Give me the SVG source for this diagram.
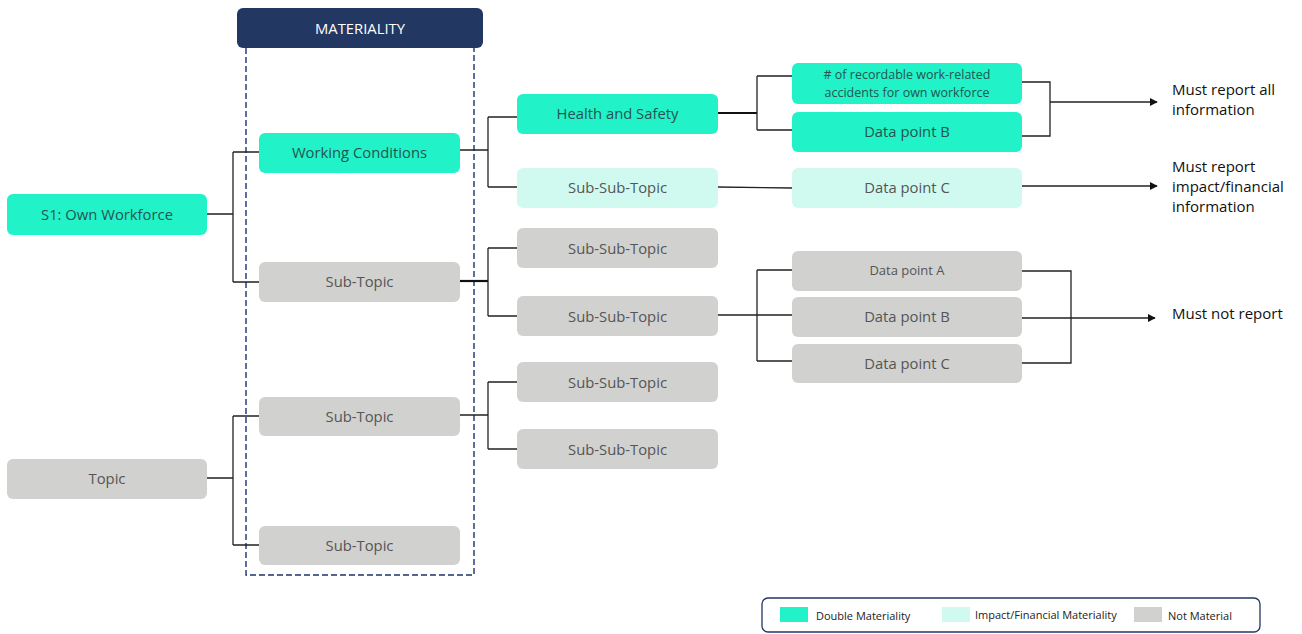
<svg xmlns="http://www.w3.org/2000/svg" width="1302" height="634" viewBox="0 0 1302 634">
<style>
text{font-family:"Open Sans","Noto Sans","Liberation Sans",sans-serif;}
.n{stroke:none;}
.dm{fill:#22F2C8;}
.im{fill:#D0FAF0;}
.nm{fill:#D1D1CF;}
.t{font-size:14.8px;text-anchor:middle;dominant-baseline:central;}
.tg{fill:#255450;}
.tl{fill:#555;}
.tn{fill:#555;}
.c{fill:none;stroke:#222;stroke-width:1.3;}
.ck{fill:none;stroke:#111;stroke-width:2.2;}
.lbl{font-size:15px;fill:#111;}
.lg{font-size:11px;fill:#222;dominant-baseline:central;}
</style>
<defs>
<marker id="ar" viewBox="0 0 10 10" refX="9" refY="5" markerWidth="8" markerHeight="8" markerUnits="userSpaceOnUse" orient="auto">
<path d="M0,0 L10,5 L0,10 z" fill="#111"/>
</marker>
</defs>

<g id="materiality">
<rect x="246" y="40" width="228" height="535" fill="none" stroke="#1B3470" stroke-width="1.4" stroke-dasharray="6,3"/>
<rect x="237" y="8" width="246" height="40" rx="6" fill="#223762"/>
<text x="360" y="28" class="t" fill="#fff">MATERIALITY</text>
</g>

<g id="connectors">
<path class="c" d="M207,214 H233 M233,152 V282 M233,152 H259 M233,282 H259"/>
<path class="c" d="M207,478 H233 M233,416 V545 M233,416 H259 M233,545 H259"/>
<path class="c" d="M460,150 H488 M488,117 V187 M488,117 H517 M488,187 H517"/>
<path class="ck" d="M460,281 H488"/>
<path class="c" d="M488,248 V316 M488,248 H517 M488,316 H517"/>
<path class="c" d="M460,415 H488 M488,382 V449 M488,382 H517 M488,449 H517"/>
<path class="ck" d="M718,113 H757"/>
<path class="c" d="M757,76 V130 M757,76 H792 M757,130 H792"/>
<path class="c" d="M718,187 L792,188"/>
<path class="c" d="M718,315 H792 M757,270 V361 M757,270 H792 M757,361 H792"/>
<path class="c" d="M1022,82 H1050 V136 H1022"/>
<path class="c" d="M1050,102 H1157" marker-end="url(#ar)"/>
<path class="c" d="M1022,186 H1157" marker-end="url(#ar)"/>
<path class="c" d="M1022,271 H1071 V363 H1022"/>
<path class="c" d="M1022,318 H1155" marker-end="url(#ar)"/>
</g>

<g id="s1"><rect class="n dm" x="7" y="194" width="200" height="41" rx="6"/><text class="t tg" x="107" y="214">S1: Own Workforce</text></g>
<g id="topic"><rect class="n nm" x="7" y="459" width="200" height="40" rx="6"/><text class="t tn" x="107" y="478">Topic</text></g>
<g id="working-conditions"><rect class="n dm" x="259" y="133" width="201" height="40" rx="6"/><text class="t tg" x="359.5" y="152">Working Conditions</text></g>
<g id="subtopic1"><rect class="n nm" x="259" y="262" width="201" height="40" rx="6"/><text class="t tn" x="359.5" y="281">Sub-Topic</text></g>
<g id="subtopic2"><rect class="n nm" x="259" y="397" width="201" height="39" rx="6"/><text class="t tn" x="359.5" y="415.5">Sub-Topic</text></g>
<g id="subtopic3"><rect class="n nm" x="259" y="526" width="201" height="39" rx="6"/><text class="t tn" x="359.5" y="545">Sub-Topic</text></g>

<g id="health-safety"><rect class="n dm" x="517" y="94" width="201" height="40" rx="6"/><text class="t tg" x="617.5" y="113">Health and Safety</text></g>
<g id="sst-light"><rect class="n im" x="517" y="168" width="201" height="40" rx="6"/><text class="t tl" x="617.5" y="187">Sub-Sub-Topic</text></g>
<g id="sst1"><rect class="n nm" x="517" y="228" width="201" height="40" rx="6"/><text class="t tn" x="617.5" y="247.5">Sub-Sub-Topic</text></g>
<g id="sst2"><rect class="n nm" x="517" y="296" width="201" height="40" rx="6"/><text class="t tn" x="617.5" y="315.5">Sub-Sub-Topic</text></g>
<g id="sst3"><rect class="n nm" x="517" y="362" width="201" height="40" rx="6"/><text class="t tn" x="617.5" y="381.5">Sub-Sub-Topic</text></g>
<g id="sst4"><rect class="n nm" x="517" y="429" width="201" height="40" rx="6"/><text class="t tn" x="617.5" y="448.5">Sub-Sub-Topic</text></g>

<g id="accidents"><rect class="n dm" x="792" y="63" width="230" height="41" rx="6"/><text class="t tg" x="907" y="74.5" style="font-size:12.5px">#  of recordable work-related</text><text class="t tg" x="907" y="92" style="font-size:12.5px">accidents for own workforce</text></g>
<g id="dp-b-green"><rect class="n dm" x="792" y="112" width="230" height="40" rx="6"/><text class="t tg" x="907" y="130.5">Data point B</text></g>
<g id="dp-c-light"><rect class="n im" x="792" y="168" width="230" height="40" rx="6"/><text class="t tl" x="907" y="186.5">Data point C</text></g>
<g id="dp-a-gray"><rect class="n nm" x="792" y="251" width="230" height="40" rx="6"/><text class="t tn" x="907" y="270" style="font-size:13px">Data point A</text></g>
<g id="dp-b-gray"><rect class="n nm" x="792" y="297" width="230" height="40" rx="6"/><text class="t tn" x="907" y="315.5">Data point B</text></g>
<g id="dp-c-gray"><rect class="n nm" x="792" y="344" width="230" height="39" rx="6"/><text class="t tn" x="907" y="362.5">Data point C</text></g>

<g id="outcomes">
<text class="lbl" x="1172" y="94.5">Must report all</text>
<text class="lbl" x="1172" y="114.5">information</text>
<text class="lbl" x="1172" y="172">Must report</text>
<text class="lbl" x="1172" y="192">impact/financial</text>
<text class="lbl" x="1172" y="212">information</text>
<text class="lbl" x="1172" y="319">Must not report</text>
</g>

<g id="legend">
<rect x="762" y="598" width="498" height="34" rx="6" fill="#fff" stroke="#223762" stroke-width="1.3"/>
<rect class="dm" x="780" y="607" width="28" height="15"/>
<text class="lg" x="816" y="615">Double Materiality</text>
<rect class="im" x="942" y="607" width="28" height="15"/>
<text class="lg" x="975" y="614">Impact/Financial Materiality</text>
<rect class="nm" x="1134" y="607" width="28" height="15"/>
<text class="lg" x="1168" y="615">Not Material</text>
</g>
</svg>
